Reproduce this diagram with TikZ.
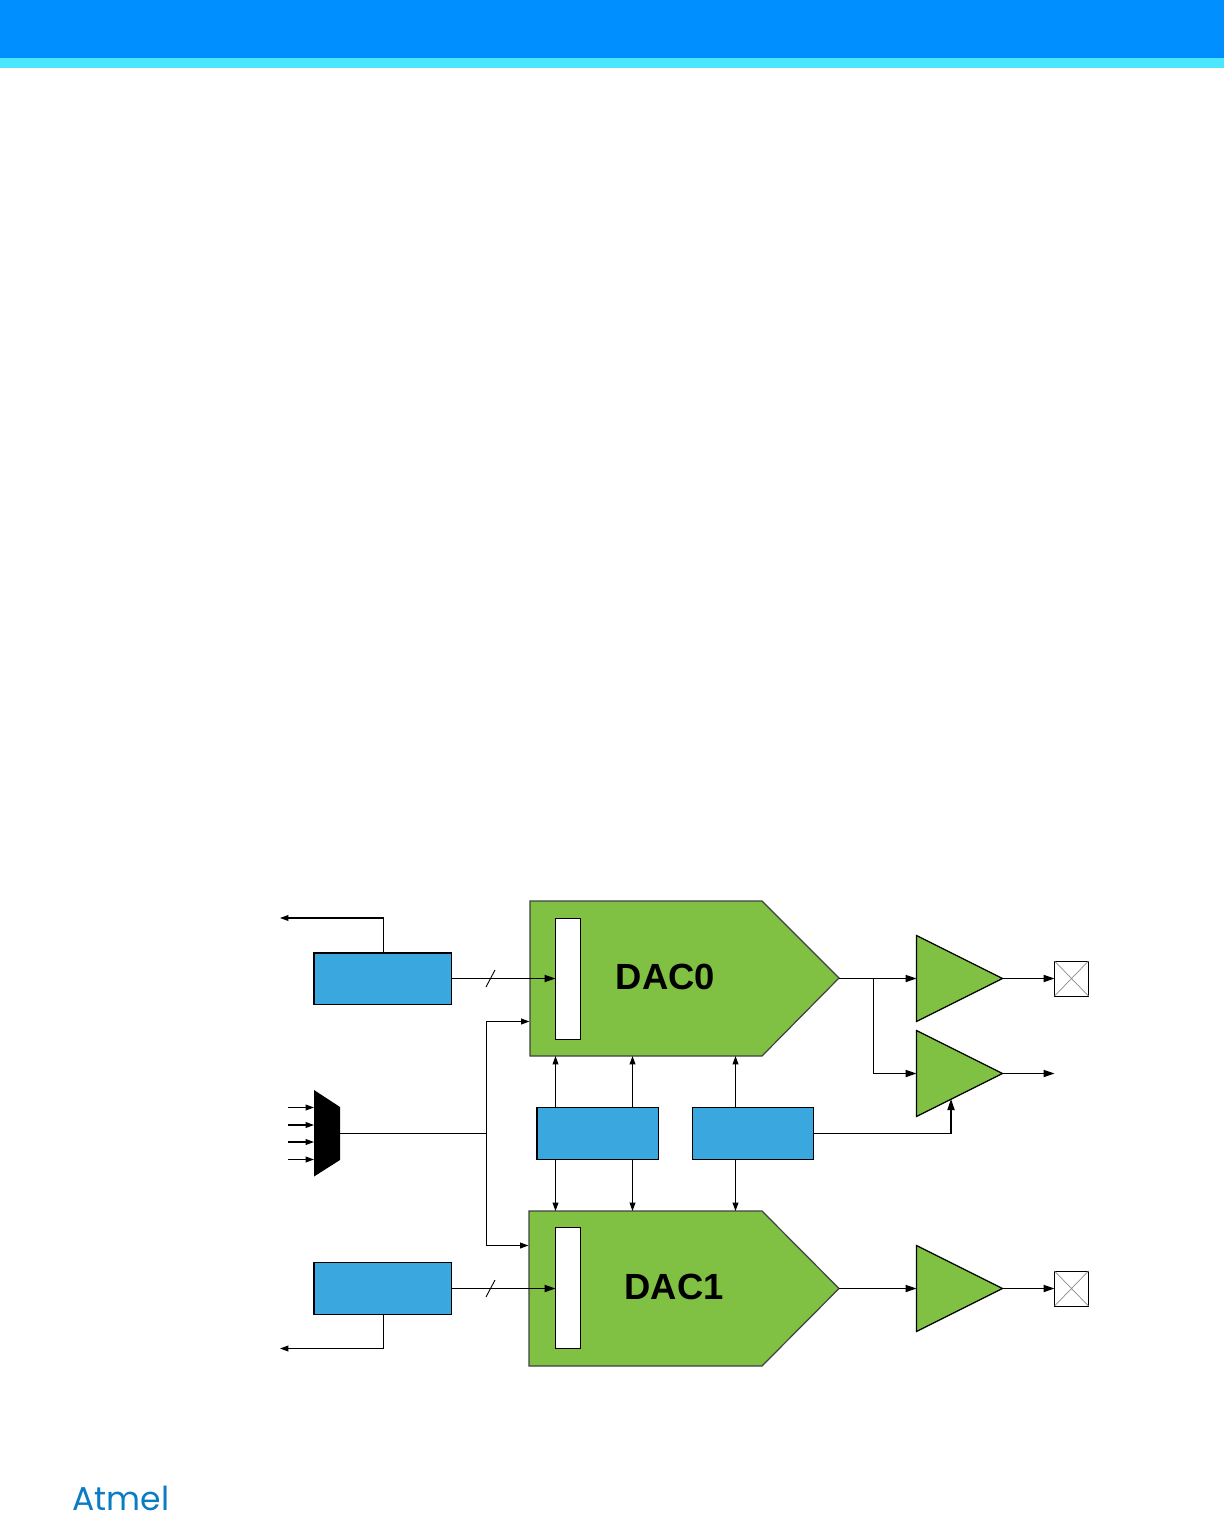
\documentclass[tikz,border=0pt]{standalone}
\usepackage{fontspec}
\setmainfont{Liberation Sans}
\newfontfamily\logofont{Poppins}
\usetikzlibrary{arrows.meta,calc}
\definecolor{hdrblue}{HTML}{008FFF}
\definecolor{hdrcyan}{HTML}{4DE6FF}
\definecolor{dacgreen}{HTML}{80C144}
\definecolor{boxblue}{HTML}{3BA7DF}
\definecolor{logoblue}{HTML}{0A7CC4}
\tikzset{
  x=0.5pt,y=-0.5pt,
  wire/.style={draw=black,line width=0.6pt,-{Triangle[length=5.5pt,width=3.6pt]}},
  smallwire/.style={draw=black,line width=0.6pt,-{Triangle[length=4.2pt,width=2.9pt]}},
  plainwire/.style={draw=black,line width=0.6pt},
  bluebox/.style={draw=black,line width=0.6pt,fill=boxblue,rectangle,inner sep=0pt,outer sep=0pt},
  regbox/.style={draw=black,line width=0.6pt,fill=white,rectangle,inner sep=0pt,outer sep=0pt,minimum width=12.5pt,minimum height=60.5pt},
  pinbox/.style={draw=black,line width=0.5pt,fill=white,rectangle,inner sep=0pt,outer sep=0pt,minimum width=17pt,minimum height=17.5pt},
  dacshape/.style={draw=black!75,line width=0.6pt,fill=dacgreen},
  amp/.style={draw=black,line width=0.6pt,fill=dacgreen,line join=miter},
  daclabel/.style={font=\bfseries\fontsize{18.2pt}{20pt}\selectfont,inner sep=0pt},
  xline/.style={draw=black!45,line width=0.35pt}
}
\begin{document}
\begin{tikzpicture}
\useasboundingbox (0,0) rectangle (1224,1513);
\fill[hdrblue] (0,0) rectangle (1224,58);
\fill[hdrcyan] (0,58) rectangle (1224,68);

% DAC bodies
\draw[dacshape] (530,901) -- (762,901) -- (839,978) -- (762,1056) -- (530,1056) -- cycle;
\draw[dacshape] (529,1211) -- (762,1211) -- (839,1288.5) -- (762,1366) -- (529,1366) -- cycle;
\coordinate (dac0out) at (839,978);
\coordinate (dac1out) at (839,1288.5);
\coordinate (dac0w) at (529.5,1021.5);
\coordinate (dac1w) at (528.5,1245.5);

\node[regbox] (reg0) at (568,978.75) {};
\node[regbox] (reg1) at (568,1288.25) {};
\node[daclabel] (lab0) at (665.5,977) {DAC0};
\node[daclabel] (lab1) at (674,1286.5) {DAC1};

% blue boxes
\node[bluebox,minimum width=68.75pt,minimum height=25.75pt] (top) at (382.75,978.75) {};
\node[bluebox,minimum width=68.75pt,minimum height=26pt] (bot) at (382.75,1288.5) {};
\node[bluebox,minimum width=60.75pt,minimum height=26pt] (mida) at (597.75,1133.5) {};
\node[bluebox,minimum width=60.5pt,minimum height=26pt] (midb) at (753,1133.5) {};

% output amplifiers
\draw[amp] (916.5,935.5) -- (1002.5,978.5) -- (916.5,1021.5) -- cycle;
\draw[amp] (916.5,1030.5) -- (1002.5,1073.5) -- (916.5,1116.5) -- cycle;
\draw[amp] (916.5,1245.5) -- (1002.5,1288.5) -- (916.5,1331.5) -- cycle;
\coordinate (amp0in) at (916.5,978.5);
\coordinate (amp0out) at (1002.5,978.5);
\coordinate (amp2in) at (916.5,1073.5);
\coordinate (amp2out) at (1002.5,1073.5);
\coordinate (amp1in) at (916.5,1288.5);
\coordinate (amp1out) at (1002.5,1288.5);
\coordinate (amp2ctl) at (951,1099);
\coordinate (amp2end) at (1054.5,1073.5);

% pins
\node[pinbox] (pin0) at (1071.5,978.5) {};
\node[pinbox] (pin1) at (1071.5,1288.5) {};
\draw[xline] (pin0.north west) -- (pin0.south east) (pin0.north east) -- (pin0.south west);
\draw[xline] (pin1.north west) -- (pin1.south east) (pin1.north east) -- (pin1.south west);

% input mux
\fill[black] (314,1090) -- (340,1107) -- (340,1160) -- (314,1176.5) -- cycle;
\coordinate (muxout) at (340,1133.5);
\foreach \n/\y in {a/1107.5,b/1125,c/1142,d/1159.5}{
  \coordinate (mi\n) at (314,\y);
  \coordinate (ms\n) at (288,\y);
  \draw[smallwire] (ms\n) -- (mi\n);
}

% left outputs
\coordinate (topleft) at (280,918);
\coordinate (botleft) at (280,1348.5);
\coordinate (topstub) at (383.5,953);
\coordinate (botstub) at (383.5,1314.5);
\draw[smallwire] (topstub) |- (topleft);
\draw[smallwire] (botstub) |- (botleft);

% data buses
\coordinate (reg0in) at (555.5,978.5);
\coordinate (reg1in) at (555.5,1288.5);
\draw[wire] (top.east |- reg0in) -- (reg0in);
\draw[wire] (bot.east |- reg1in) -- (reg1in);
\draw[plainwire,line width=0.45pt] (486,987) -- (495,970);
\draw[plainwire,line width=0.45pt] (486,1297) -- (495,1280);

% reference bus
\coordinate (bus) at (486.5,1133.5);
\draw[plainwire] (muxout) -- (bus);
\draw[smallwire] (bus) |- (dac0w);
\draw[smallwire] (bus) |- (dac1w);

% control lines
\foreach \x/\b/\n in {555.5/mida/a,632.5/mida/b,735.5/midb/c}{
  \coordinate (up\n) at (\x,1056);
  \coordinate (dn\n) at (\x,1211);
  \draw[smallwire] (\b.north -| up\n) -- (up\n);
  \draw[smallwire] (\b.south -| dn\n) -- (dn\n);
}
\draw[wire] (midb.east) -| (amp2ctl);

% outputs
\coordinate (branch) at (873.5,978.5);
\draw[wire] (dac0out |- amp0in) -- (amp0in);
\draw[wire] (branch) |- (amp2in);
\draw[wire] (dac1out) -- (amp1in);
\draw[wire] (amp0out) -- (pin0.west);
\draw[wire] (amp1out) -- (pin1.west);
\draw[wire] (amp2out) -- (amp2end);

% logo
\node[inner sep=0pt,text=logoblue,font=\logofont\fontsize{16.5pt}{18pt}\selectfont] (logo) at (121,1498.5) {Atmel};
\end{tikzpicture}
\end{document}
